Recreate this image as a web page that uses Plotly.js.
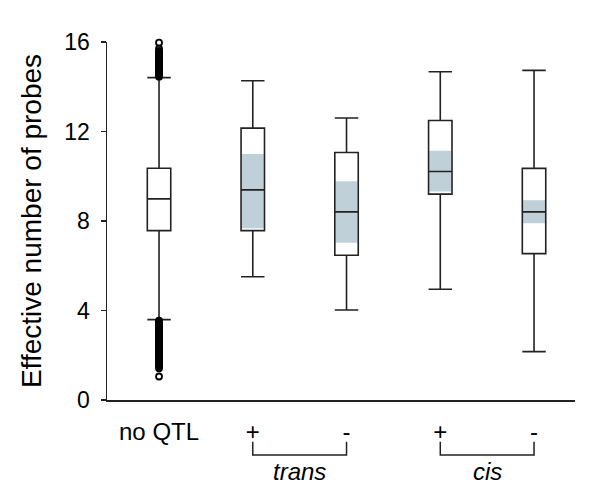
<!DOCTYPE html>
<html>
<head>
<meta charset="utf-8">
<script src="https://cdn.plot.ly/plotly-3.0.1.min.js"></script>
<style>html,body{margin:0;padding:0;background:#fff;}#chart{width:600px;height:502px;}</style>
</head>
<body>
<div id="chart"></div>
<script>
// Category positions and labels
const xPos = [0, 1, 2, 3, 4];
const tickLabels = ["no QTL", "+", "-", "+", "-"];

// Box statistics
const q1 = [7.57, 7.57, 6.47, 9.20, 6.54];
const medians = [8.99, 9.39, 8.41, 10.21, 8.41];
const q3 = [10.36, 12.15, 11.06, 12.49, 10.35];
const lowerWhisker = [3.59, 5.51, 4.02, 4.95, 2.16];
const upperWhisker = [14.41, 14.27, 12.60, 14.67, 14.73];

// Shaded (median confidence) bands for the QTL groups
const shadeX = [1, 2, 3, 4];
const shadeLow = [7.68, 7.03, 9.32, 7.90];
const shadeHigh = [10.99, 9.78, 11.14, 8.93];

// Outliers of the "no QTL" group (dense runs above and below the whiskers)
const outlierY = [14.45, 14.5, 14.55, 14.6, 14.65, 14.7, 14.75, 14.8, 14.85, 14.9, 14.95, 15.0,
                  15.05, 15.1, 15.15, 15.2, 15.25, 15.3, 15.35, 15.4, 15.45, 15.5, 15.55, 15.6, 15.7, 15.97,
                  3.55, 3.5, 3.45, 3.4, 3.35, 3.3, 3.25, 3.2, 3.15, 3.1, 3.05, 3.0, 2.95, 2.9, 2.85, 2.8,
                  2.75, 2.7, 2.65, 2.6, 2.55, 2.5, 2.45, 2.4, 2.35, 2.3, 2.25, 2.2, 2.15, 2.1, 2.05, 2.0,
                  1.95, 1.9, 1.85, 1.8, 1.75, 1.7, 1.65, 1.6, 1.55, 1.5, 1.42, 1.05];
const outlierX = outlierY.map(() => 0);

// Group labels
const groupNames = ["trans", "cis"];
const groupStart = [1, 3];
const groupEnd = [2, 4];

const FONT = "Liberation Sans, Arial, Helvetica, sans-serif";

const shadeBars = {
  type: "bar",
  x: shadeX,
  base: shadeLow,
  y: shadeHigh.map((h, i) => h - shadeLow[i]),
  width: 0.235,
  marker: {color: "#bfd0d9", line: {width: 0}},
  hoverinfo: "skip",
  showlegend: false
};

const boxes = {
  type: "box",
  x: xPos,
  q1: q1,
  median: medians,
  q3: q3,
  lowerfence: lowerWhisker,
  upperfence: upperWhisker,
  width: 0.25,
  whiskerwidth: 1,
  boxpoints: false,
  fillcolor: "rgba(0,0,0,0)",
  line: {color: "#222222", width: 1.6},
  showlegend: false
};

const outliers = {
  type: "scatter",
  mode: "markers",
  x: outlierX,
  y: outlierY,
  cliponaxis: false,
  marker: {symbol: "circle-open", size: 6, color: "#000000", line: {width: 1.8, color: "#000000"}},
  showlegend: false,
  hoverinfo: "skip"
};

const shapes = [];
const annotations = [];
const yTop = -0.1165, yBot = -0.1536;
groupNames.forEach((g, i) => {
  shapes.push({
    type: "path", xref: "x", yref: "paper",
    path: `M ${groupStart[i]},${yTop} L ${groupStart[i]},${yBot} L ${groupEnd[i]},${yBot} L ${groupEnd[i]},${yTop}`,
    line: {color: "#222222", width: 1.5}
  });
  annotations.push({
    xref: "x", yref: "paper",
    x: (groupStart[i] + groupEnd[i]) / 2, y: -0.2,
    text: "<i>" + g + "</i>",
    showarrow: false,
    xanchor: "center", yanchor: "middle",
    font: {family: FONT, size: 24, color: "#000"}
  });
});

const layout = {
  width: 600, height: 502,
  margin: {l: 107, r: 25, t: 42, b: 102},
  paper_bgcolor: "#ffffff",
  plot_bgcolor: "#ffffff",
  showlegend: false,
  barmode: "overlay",
  font: {family: FONT, color: "#000"},
  xaxis: {
    range: [-0.555, 4.437],
    tickmode: "array",
    tickvals: xPos,
    ticktext: tickLabels,
    showline: true, linecolor: "#222222", linewidth: 1.5,
    ticks: "", showgrid: false, zeroline: false,
    tickfont: {family: FONT, size: 24, color: "#000"},
    ticklabelstandoff: 10
  },
  yaxis: {
    range: [0, 16],
    tickmode: "array",
    tickvals: [0, 4, 8, 12, 16],
    showline: true, linecolor: "#222222", linewidth: 1.5,
    ticks: "outside", ticklen: 5, tickwidth: 1.5, tickcolor: "#222222",
    showgrid: false, zeroline: false,
    tickfont: {family: FONT, size: 23, color: "#000"},
    ticklabelstandoff: 6,
    title: {text: "Effective number of probes", font: {family: FONT, size: 28, color: "#000"}, standoff: 14}
  },
  shapes: shapes,
  annotations: annotations
};

Plotly.newPlot("chart", [shadeBars, boxes, outliers], layout, {displayModeBar: false, staticPlot: true});
</script>
</body>
</html>
